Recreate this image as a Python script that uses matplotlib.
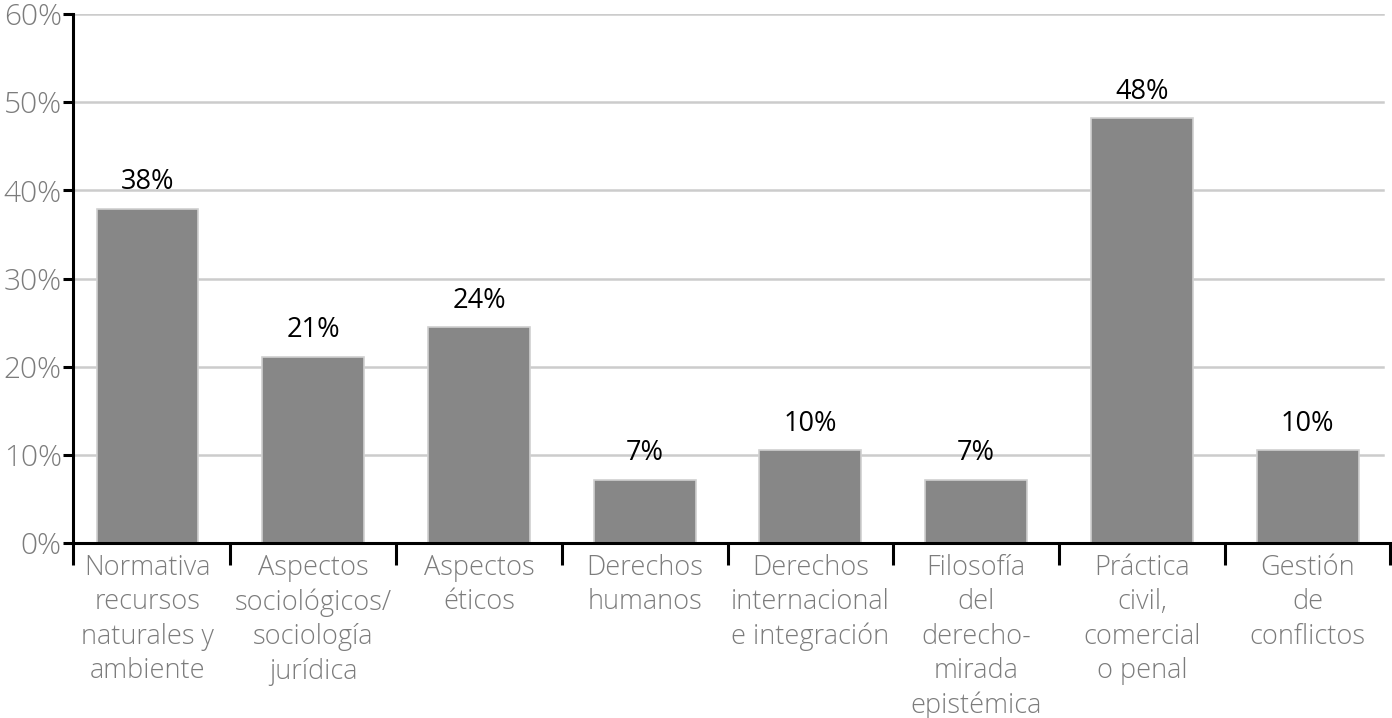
import matplotlib.pyplot as plt
from matplotlib.ticker import FixedLocator

# Données
categorias = [
    'Normativa\nrecursos\nnaturales y\nambiente',
    'Aspectos\nsociológicos/\nsociología\njurídica',
    'Aspectos\néticos',
    'Derechos\nhumanos',
    'Derechos\ninternacional\ne integración',
    'Filosofía\ndel\nderecho-\nmirada\nepistémica',
    'Práctica\ncivil,\ncomercial\no penal',
    'Gestión\nde\nconflictos',
]
valores = [37.9, 21.1, 24.5, 7.2, 10.5, 7.2, 48.2, 10.5]
etiquetas = ['38%', '21%', '24%', '7%', '10%', '7%', '48%', '10%']
yticks = [0, 10, 20, 30, 40, 50, 60]

plt.rcParams['font.family'] = ['Open Sans', 'DejaVu Sans']

fig = plt.figure(figsize=(13.92, 7.18), dpi=100)
ax = fig.add_axes([0.0524, 0.2437, 0.9465, 0.7368])

x = list(range(len(valores)))
ax.bar(x, valores, width=0.615, color='#878787', edgecolor='#d0d0d0',
       linewidth=1.2, zorder=3)

# étiquettes au-dessus des barres
for xi, v, lab in zip(x, valores, etiquetas):
    ax.annotate(lab, (xi, v), xytext=(0, 9), textcoords='offset points',
                ha='center', va='bottom', fontsize=19.5, color='black')

ax.set_xlim(-0.45, 7.5)
ax.set_ylim(0, 60)

for t in yticks:
    if t > 0:
        ax.axhline(t, xmin=0, xmax=0.994, color='#cccccc', linewidth=1.8, zorder=1)

ax.set_yticks(yticks)
ax.set_yticklabels([f'{t}%' for t in yticks], fontsize=21.5, color='#7c7c7c',
                   fontweight='light')
ax.tick_params(axis='y', direction='out', length=7, width=2.2, color='black', pad=1)

ax.set_xticks(x)
ax.set_xticklabels(categorias, fontsize=19.5, color='#7c7c7c', fontweight='light',
                   linespacing=1.3, va='top')
ax.tick_params(axis='x', which='major', length=0, pad=8)
ax.xaxis.set_minor_locator(FixedLocator([-0.45, 0.5, 1.5, 2.5, 3.5, 4.5, 5.5, 6.5, 7.5]))
ax.tick_params(axis='x', which='minor', direction='out', length=16, width=2.2, color='black')

for s in ['top', 'right']:
    ax.spines[s].set_visible(False)
ax.spines['left'].set_linewidth(2.2)
ax.spines['bottom'].set_linewidth(2.2)
ax.spines['left'].set_zorder(5)
ax.spines['bottom'].set_zorder(5)

fig.savefig('out.png', dpi=100)
